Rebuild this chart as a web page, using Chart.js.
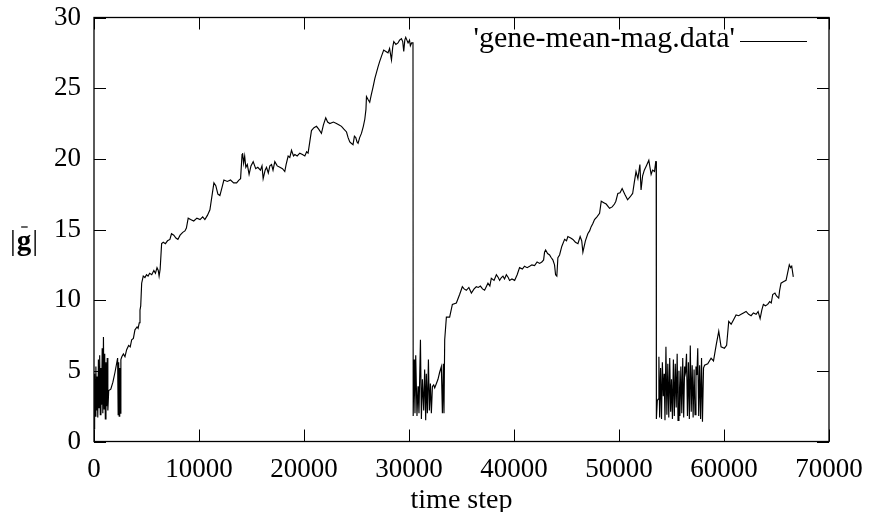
<!DOCTYPE html>
<html><head><meta charset="utf-8">
<script src="https://cdn.jsdelivr.net/npm/chart.js@4"></script>
<style>html,body{margin:0;padding:0;background:#fff}#wrap{width:871px;height:512px}</style>
</head><body><div id="wrap"><canvas id="c" width="871" height="512"></canvas></div>
<script>
// ---- data ----
const seriesLabel = "'gene-mean-mag.data'";
const xTitle = 'time step';
const yTitleParts = ['|', 'g', '|'];
const xTicks = [0, 10000, 20000, 30000, 40000, 50000, 60000, 70000];
const yTicks = [0, 5, 10, 15, 20, 25, 30];

// run 1 (0 .. 30380)
const steps1 = [0,60,120,180,240,300,360,420,480,540,600,660,720,780,840,900,960,1020,1080,1140,1200,1260,1320,1400,
1600,1800,2000,2150,2250,2300,2350,2400,2450,2500,2560,2650,2800,2950,3110,3300,3450,3590,3750,3900,4100,4200,4310,4380,4450,
4540,4690,4850,5000,5150,5300,5500,5700,5850,6000,6120,6200,6300,6440,6600,6800,7000,7230,7380,7600,7800,7990,8200,8450,8660,
8800,8970,9200,9500,9800,10100,10350,10560,10800,11040,11200,11420,11600,11800,11990,12200,12370,12700,13000,13300,13580,13800,
13960,14100,14150,14250,14350,14460,14600,14770,14950,15160,15400,15600,15850,16000,16110,16300,16430,16600,16750,16910,17050,
17220,17450,17700,17950,18170,18300,18490,18650,18810,19000,19130,19350,19600,19850,20080,20250,20390,20550,20710,20950,21190,
21400,21660,21850,22070,22250,22460,22800,23090,23350,23570,23800,24050,24200,24360,24500,24670,24800,24930,25050,25150,25300,
25470,25650,25790,25900,25950,26100,26260,26400,26580,26750,26900,27050,27210,27400,27590,27800,28000,28150,28330,28450,28550,
28750,28950,29100,29280,29400,29500,29600,29690,29800,29910,30050,30130,30250,30380];
const mag1 = [0.9,4.8,1.8,5.3,2.2,4.6,1.7,5.8,2.4,6.1,1.9,5.2,2.6,6.6,2.0,7.4,2.3,6.2,1.6,5.6,2.5,5.9,2.2,3.6,
3.7,4.2,4.9,5.5,5.9,1.9,5.6,1.8,5.2,2.0,5.8,6.0,6.2,6.0,6.5,6.8,6.7,7.2,7.3,7.9,8.1,8.0,8.4,9.3,9.6,
11.2,11.7,11.6,11.8,11.7,11.9,11.8,12.1,11.9,12.3,12.1,11.7,12.2,14.0,14.1,14.0,14.2,14.3,14.7,14.6,14.4,14.3,14.6,14.8,14.9,
15.1,15.8,15.7,15.6,15.8,15.7,15.9,15.7,16.0,16.4,17.2,18.3,18.1,17.5,17.4,18.0,18.5,18.4,18.5,18.3,18.3,18.5,
18.6,20.3,20.4,19.7,20.2,19.4,19.6,18.9,19.5,19.8,19.3,19.4,19.2,19.5,18.6,19.2,19.4,19.0,19.5,19.6,19.2,
19.8,19.5,19.4,19.3,19.1,19.6,20.2,20.1,20.6,20.2,20.3,20.2,20.4,20.3,20.2,20.5,20.4,21.2,22.0,22.2,22.3,
22.1,21.8,22.4,22.9,22.6,22.5,22.6,22.5,22.4,22.3,22.1,21.9,21.5,21.2,21.1,21.0,21.6,21.5,21.2,21.1,21.5,
21.8,22.3,22.8,23.5,24.4,24.2,24.0,24.5,25.1,25.7,26.1,26.5,26.9,27.3,27.7,27.6,27.5,27.8,27.0,27.9,28.3,
28.1,28.2,28.4,28.5,28.3,27.6,28.4,28.6,28.4,28.2,28.4,28.0,28.2,28.2];

// run 2 (30400 .. 53540)
const steps2 = [30400,30480,30570,30640,30760,30860,30950,31090,31180,31280,31400,31490,31590,31650,31750,31850,31940,32040,32130,
32230,32350,32450,32610,32760,32920,33080,33180,33270,33330,33400,33560,33870,34130,34510,34820,35080,35250,35460,35700,35940,
36200,36410,36600,36800,37000,37200,37520,37700,37840,38100,38320,38500,38630,38800,38950,39100,39270,39450,39580,39800,40060,
40300,40530,40800,41000,41250,41490,41700,41960,42200,42440,42650,42820,42910,43010,43200,43390,43550,43700,43860,43960,44080,
44180,44340,44550,44820,45000,45130,45400,45610,45850,46090,46300,46450,46560,46800,47030,47200,47350,47500,47670,47900,48150,
48310,48550,48780,49100,49350,49570,49700,49890,50100,50300,50550,50820,51050,51300,51450,51620,51800,51990,52100,52250,52410,
52600,52840,52950,53060,53200,53380,53500,53540];
const mag2 = [1.8,5.8,2.0,6.1,1.8,3.9,2.0,7.2,1.6,4.4,2.2,5.1,1.5,4.8,2.0,5.8,2.2,4.1,2.0,
3.9,4.0,3.8,4.1,4.4,4.9,5.3,2.0,5.5,2.0,7.2,8.8,8.8,9.7,9.8,10.4,10.95,10.8,10.7,10.9,10.5,
10.8,10.95,10.9,11.0,10.8,10.7,11.2,11.0,11.55,11.4,11.8,11.6,11.4,11.6,11.7,11.5,11.8,11.6,11.4,11.5,11.4,
11.8,12.3,12.2,12.4,12.3,12.4,12.5,12.45,12.7,12.6,12.7,12.85,13.4,13.55,13.3,13.2,13.0,12.85,12.5,11.8,11.7,
13.0,13.2,13.8,14.3,14.2,14.5,14.4,14.3,14.1,14.0,14.5,14.2,13.4,14.2,14.7,14.9,15.2,15.4,15.7,15.9,16.15,
17.0,16.9,16.8,16.5,16.6,16.8,17.0,17.55,17.6,17.9,17.5,17.1,17.3,17.55,18.3,19.1,18.6,19.6,17.8,18.8,19.2,
19.5,19.9,19.4,18.9,19.2,19.1,19.8,19.8];

// run 3 (53560 .. 66600)
const steps3 = [53560,53650,53740,53800,53870,53960,54050,54130,54220,54300,54380,54470,54560,54650,54740,54830,54920,55000,55090,
55180,55270,55360,55450,55540,55620,55710,55800,55890,55980,56070,56160,56250,56340,56430,56520,56610,56700,56790,56880,56970,
57060,57150,57240,57330,57420,57500,57590,57680,57770,57860,57950,58050,58150,58450,58770,59000,59250,59500,59720,60040,60250,
60450,60680,60900,61150,61400,61630,61850,62100,62350,62580,62800,63060,63250,63440,63600,63750,63950,64160,64350,64500,64640,
64850,65000,65210,65300,65430,65650,65910,66050,66220,66350,66450,66600];
const mag3 = [1.6,2.9,3.0,6.0,1.7,5.2,1.6,5.6,3.2,4.8,1.5,6.7,1.9,5.5,1.7,5.9,2.1,4.4,1.6,
5.8,1.8,5.5,2.4,6.2,1.5,5.0,1.8,5.3,2.0,5.9,1.7,5.3,4.9,6.2,1.8,5.6,1.6,6.8,2.1,5.4,
1.7,5.1,1.9,5.3,4.7,6.6,1.8,5.4,1.6,5.9,1.4,5.2,5.4,5.5,5.9,5.7,6.8,7.8,6.7,6.6,6.8,
8.5,8.3,8.6,8.95,8.9,9.0,9.1,9.2,9.0,8.9,9.1,9.0,9.2,8.7,9.3,9.7,9.6,9.7,9.9,9.8,10.4,
10.5,10.3,10.15,10.7,11.2,11.3,11.4,11.9,12.5,12.3,12.4,11.65];

const timeSteps = steps1.concat(steps2, steps3);
const meanMag = mag1.concat(mag2, mag3);
const points = timeSteps.map((t, i) => ({x: t, y: meanMag[i]}));

const FONT = "'Liberation Serif', 'Times New Roman', serif";
Chart.defaults.font.family = FONT;
Chart.defaults.font.size = 27;
Chart.defaults.color = '#000';

const framePlugin = {
  id: 'frame',
  afterDatasetsDraw(chart) {
    const {ctx, chartArea: a, scales: {x, y}} = chart;
    ctx.save();
    ctx.strokeStyle = '#000';
    ctx.lineWidth = 1;
    ctx.beginPath();
    for (const v of xTicks) {
      const px = Math.round(x.getPixelForValue(v)) + 0.5;
      ctx.moveTo(px, a.bottom); ctx.lineTo(px, a.bottom - 12);
      ctx.moveTo(px, a.top); ctx.lineTo(px, a.top + 12);
    }
    for (const v of yTicks) {
      const py = Math.round(y.getPixelForValue(v)) + 0.5;
      ctx.moveTo(a.left, py); ctx.lineTo(a.left + 12, py);
      ctx.moveTo(a.right, py); ctx.lineTo(a.right - 12, py);
    }
    ctx.stroke();
    ctx.lineWidth = 1.3;
    ctx.strokeRect(a.left, a.top, a.right - a.left, a.bottom - a.top);

    // key (text then line sample)
    const ds = chart.data.datasets[0];
    ctx.font = '30px ' + FONT;
    ctx.fillStyle = '#000';
    ctx.textAlign = 'right';
    ctx.textBaseline = 'alphabetic';
    ctx.fillText(ds.label, 735, 47);
    ctx.beginPath();
    ctx.lineWidth = 1;
    ctx.moveTo(740, 41.5); ctx.lineTo(807, 41.5);
    ctx.stroke();

    // y label |g| (horizontal, bold g with bar)
    ctx.textAlign = 'left';
    let cx = 10;
    const base = 250;
    ctx.font = '29px ' + FONT;
    ctx.fillText(yTitleParts[0], cx, base); cx += ctx.measureText(yTitleParts[0]).width + 1;
    ctx.font = 'bold 29px ' + FONT;
    const gw = ctx.measureText(yTitleParts[1]).width;
    ctx.fillText(yTitleParts[1], cx, base);
    ctx.beginPath(); ctx.lineWidth = 1.2;
    ctx.moveTo(cx + gw * 0.3, base - 23); ctx.lineTo(cx + gw * 0.75, base - 23); ctx.stroke();
    cx += gw + 1;
    ctx.font = '29px ' + FONT;
    ctx.fillText(yTitleParts[2], cx, base);
    ctx.restore();
  }
};

new Chart(document.getElementById('c'), {
  type: 'line',
  data: { datasets: [{
    label: seriesLabel,
    data: points,
    borderColor: '#000',
    borderWidth: 1.15,
    pointRadius: 0,
    tension: 0,
    fill: false
  }]},
  options: {
    responsive: false,
    animation: false,
    devicePixelRatio: 1,
    layout: { padding: { left: 0, right: 42, top: 17.5, bottom: 0 } },
    plugins: { legend: { display: false }, tooltip: { enabled: false } },
    scales: {
      x: {
        type: 'linear', min: 0, max: 70000,
        afterBuildTicks: s => { s.ticks = xTicks.map(v => ({value: v})); },
        afterFit: s => { s.height = 70.5; s.paddingLeft = 0; s.paddingRight = 0; },
        grid: { display: false, drawTicks: false },
        border: { display: false },
        ticks: { padding: 12, maxRotation: 0, autoSkip: false, callback: v => String(v), font: { size: 27 } },
        title: { display: true, text: xTitle, font: { size: 28 }, padding: { top: 0, bottom: -5 } }
      },
      y: {
        type: 'linear', min: 0, max: 30,
        afterBuildTicks: s => { s.ticks = yTicks.map(v => ({value: v})); },
        afterFit: s => { s.width = 94; s.paddingTop = 0; s.paddingBottom = 0; },
        grid: { display: false, drawTicks: false },
        border: { display: false },
        ticks: { padding: 13, autoSkip: false, callback: v => String(v), font: { size: 27 } }
      }
    }
  },
  plugins: [framePlugin]
});
</script>
</body></html>
